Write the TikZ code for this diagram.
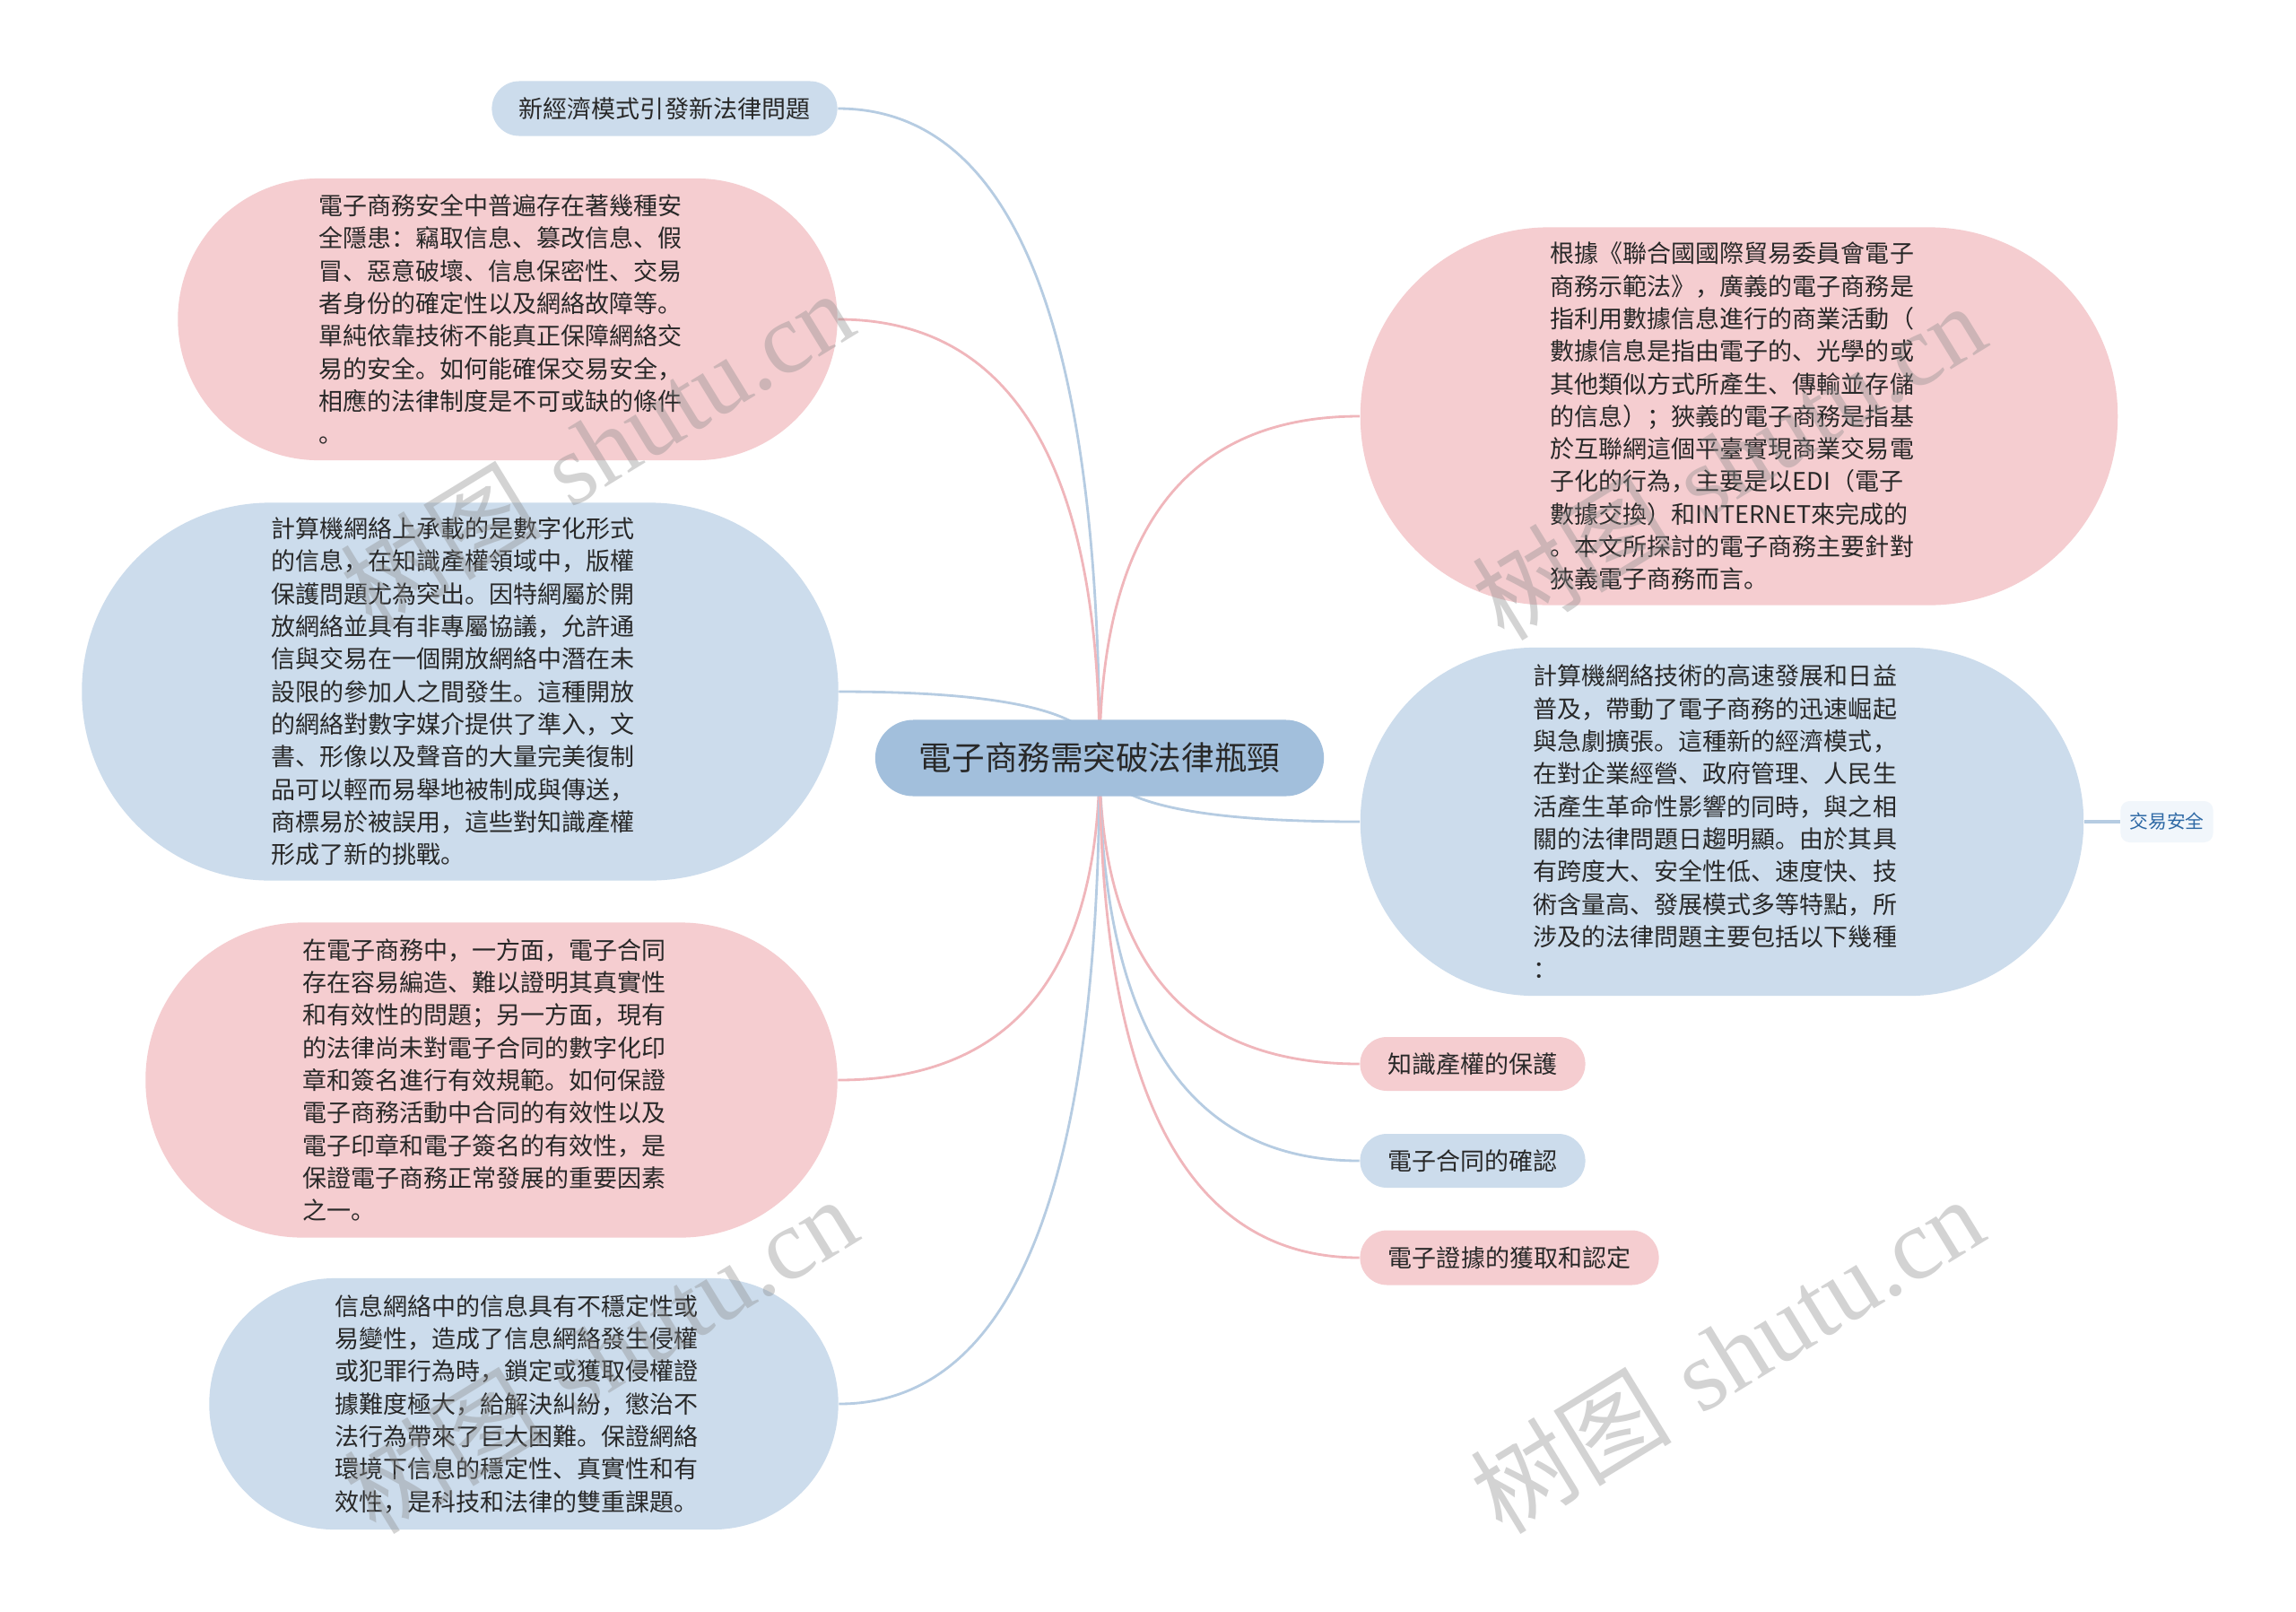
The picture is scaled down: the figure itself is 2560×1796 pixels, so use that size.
\documentclass[tikz,border=0pt]{standalone}
\usepackage{fontspec}
\usetikzlibrary{calc}
\newfontfamily\cjkf{Noto Sans CJK SC}
\newfontfamily\wmserif{Liberation Serif}
\definecolor{pinkfill}{RGB}{245,205,208}
\definecolor{bluefill}{RGB}{204,220,236}
\definecolor{rootfill}{RGB}{162,191,220}
\definecolor{pinkline}{RGB}{240,182,187}
\definecolor{blueline}{RGB}{182,204,226}
\definecolor{jyfill}{RGB}{241,246,251}
\definecolor{jytext}{RGB}{46,105,165}
\definecolor{txt}{RGB}{40,40,40}
\newcommand\bodyfont{\cjkf\fontsize{7.68pt}{10.33pt}\selectfont}
\newcommand\rootfont{\cjkf\fontsize{10.4pt}{13pt}\selectfont}
\newcommand\jyfont{\cjkf\fontsize{5.9pt}{7pt}\selectfont}
\newcommand\wmfont{\fontsize{32pt}{36pt}\selectfont}
\pgfdeclarelayer{bg}
\pgfsetlayers{bg,main}
\newcommand\qlink[3]{%
  \coordinate (#3) at (root.center |- #2);
  \draw[#1] (root.center) .. controls ($(root.center)!0.6667!(#3)$) and ($(#2)!0.6667!(#3)$) .. (#2);}
\begin{document}
\begin{tikzpicture}[x=0.01cm,y=-0.01cm,
  base/.style={draw=none, inner sep=0pt, text=txt, align=left},
  pinkbox/.style={base, fill=pinkfill},
  bluebox/.style={base, fill=bluefill},
  body/.style={font=\bodyfont, text width=4.2cm},
  small/.style={font=\bodyfont, align=center},
  pinkln/.style={draw=pinkline, line width=0.8pt},
  blueln/.style={draw=blueline, line width=0.8pt},
  wm/.style={text=black!45, opacity=0.38, font=\wmfont, rotate=31.5}]
\useasboundingbox (0,0) rectangle (2560,1796);

% root
\node[base, fill=rootfill, minimum width=5cm, minimum height=0.85cm, rounded corners=0.425cm, font=\rootfont, align=center] (root) at (1226,845) {電子商務需突破法律瓶頸};

% left side
\node[bluebox, small, minimum width=3.85cm, minimum height=0.61cm, rounded corners=0.305cm] (n1) at (741,121) {新經濟模式引發新法律問題};

\node[pinkbox, body, minimum width=7.35cm, minimum height=3.14cm, rounded corners=1.57cm] (n2) at (566,356) {電子商務安全中普遍存在著幾種安\\全隱患：竊取信息、篡改信息、假\\冒、惡意破壞、信息保密性、交易\\者身份的確定性以及網絡故障等。\\單純依靠技術不能真正保障網絡交\\易的安全。如何能確保交易安全，\\相應的法律制度是不可或缺的條件\\。};

\node[bluebox, body, minimum width=8.43cm, minimum height=4.21cm, rounded corners=2.1cm] (n3) at (513,771) {計算機網絡上承載的是數字化形式\\的信息，在知識產權領域中，版權\\保護問題尤為突出。因特網屬於開\\放網絡並具有非專屬協議，允許通\\信與交易在一個開放網絡中潛在未\\設限的參加人之間發生。這種開放\\的網絡對數字媒介提供了準入，文\\書、形像以及聲音的大量完美復制\\品可以輕而易舉地被制成與傳送，\\商標易於被誤用，這些對知識產權\\形成了新的挑戰。};

\node[pinkbox, body, minimum width=7.71cm, minimum height=3.51cm, rounded corners=1.75cm] (n4) at (548,1204) {在電子商務中，一方面，電子合同\\存在容易編造、難以證明其真實性\\和有效性的問題；另一方面，現有\\的法律尚未對電子合同的數字化印\\章和簽名進行有效規範。如何保證\\電子商務活動中合同的有效性以及\\電子印章和電子簽名的有效性，是\\保證電子商務正常發展的重要因素\\之一。};

\node[bluebox, body, minimum width=7.01cm, minimum height=2.8cm, rounded corners=1.4cm] (n5) at (584,1565) {信息網絡中的信息具有不穩定性或\\易變性，造成了信息網絡發生侵權\\或犯罪行為時，鎖定或獲取侵權證\\據難度極大，給解決糾紛，懲治不\\法行為帶來了巨大困難。保證網絡\\環境下信息的穩定性、真實性和有\\效性，是科技和法律的雙重課題。};

% right side
\node[pinkbox, body, minimum width=8.44cm, minimum height=4.21cm, rounded corners=2.1cm] (n6) at (1939,464) {根據《聯合國國際貿易委員會電子\\商務示範法》，廣義的電子商務是\\指利用數據信息進行的商業活動（\\數據信息是指由電子的、光學的或\\其他類似方式所產生、傳輸並存儲\\的信息）；狹義的電子商務是指基\\於互聯網這個平臺實現商業交易電\\子化的行為，主要是以EDI（電子\\數據交換）和INTERNET來完成的\\。本文所探討的電子商務主要針對\\狹義電子商務而言。};

\node[bluebox, body, minimum width=8.06cm, minimum height=3.88cm, rounded corners=1.94cm] (n7) at (1920,916) {計算機網絡技術的高速發展和日益\\普及，帶動了電子商務的迅速崛起\\與急劇擴張。這種新的經濟模式，\\在對企業經營、政府管理、人民生\\活產生革命性影響的同時，與之相\\關的法律問題日趨明顯。由於其具\\有跨度大、安全性低、速度快、技\\術含量高、發展模式多等特點，所\\涉及的法律問題主要包括以下幾種\\：};

\node[base, fill=jyfill, text=jytext, font=\jyfont, align=center, minimum width=1.03cm, minimum height=0.46cm, rounded corners=0.1cm] (jy) at (2416,916) {交易安全};

\node[pinkbox, small, minimum width=2.51cm, minimum height=0.6cm, rounded corners=0.3cm] (k1) at (1642,1186) {知識產權的保護};
\node[bluebox, small, minimum width=2.51cm, minimum height=0.6cm, rounded corners=0.3cm] (k2) at (1642,1294) {電子合同的確認};
\node[pinkbox, small, minimum width=3.33cm, minimum height=0.61cm, rounded corners=0.305cm] (k3) at (1683,1402) {電子證據的獲取和認定};

% connectors
\begin{pgfonlayer}{bg}
\fill[white] (0,0) rectangle (2560,1796);
\qlink{blueln}{n1.east}{c1}
\qlink{pinkln}{n2.east}{c2}
\qlink{blueln}{n3.east}{c3}
\qlink{pinkln}{n4.east}{c4}
\qlink{blueln}{n5.east}{c5}
\qlink{pinkln}{n6.west}{c6}
\qlink{blueln}{n7.west}{c7}
\qlink{pinkln}{k1.west}{c8}
\qlink{blueln}{k2.west}{c9}
\qlink{pinkln}{k3.west}{c10}
\draw[blueln, line width=1.2pt] (n7.east) -- (jy.west);
\end{pgfonlayer}

% watermarks
\node[wm] (w1) at (665,500) {{\cjkf 树图} {\wmserif shutu.cn}};
\node[wm] (w2) at (1927,514) {{\cjkf 树图} {\wmserif shutu.cn}};
\node[wm] (w3) at (669,1510) {{\cjkf 树图} {\wmserif shutu.cn}};
\node[wm] (w4) at (1925,1510) {{\cjkf 树图} {\wmserif shutu.cn}};
\end{tikzpicture}
\end{document}
